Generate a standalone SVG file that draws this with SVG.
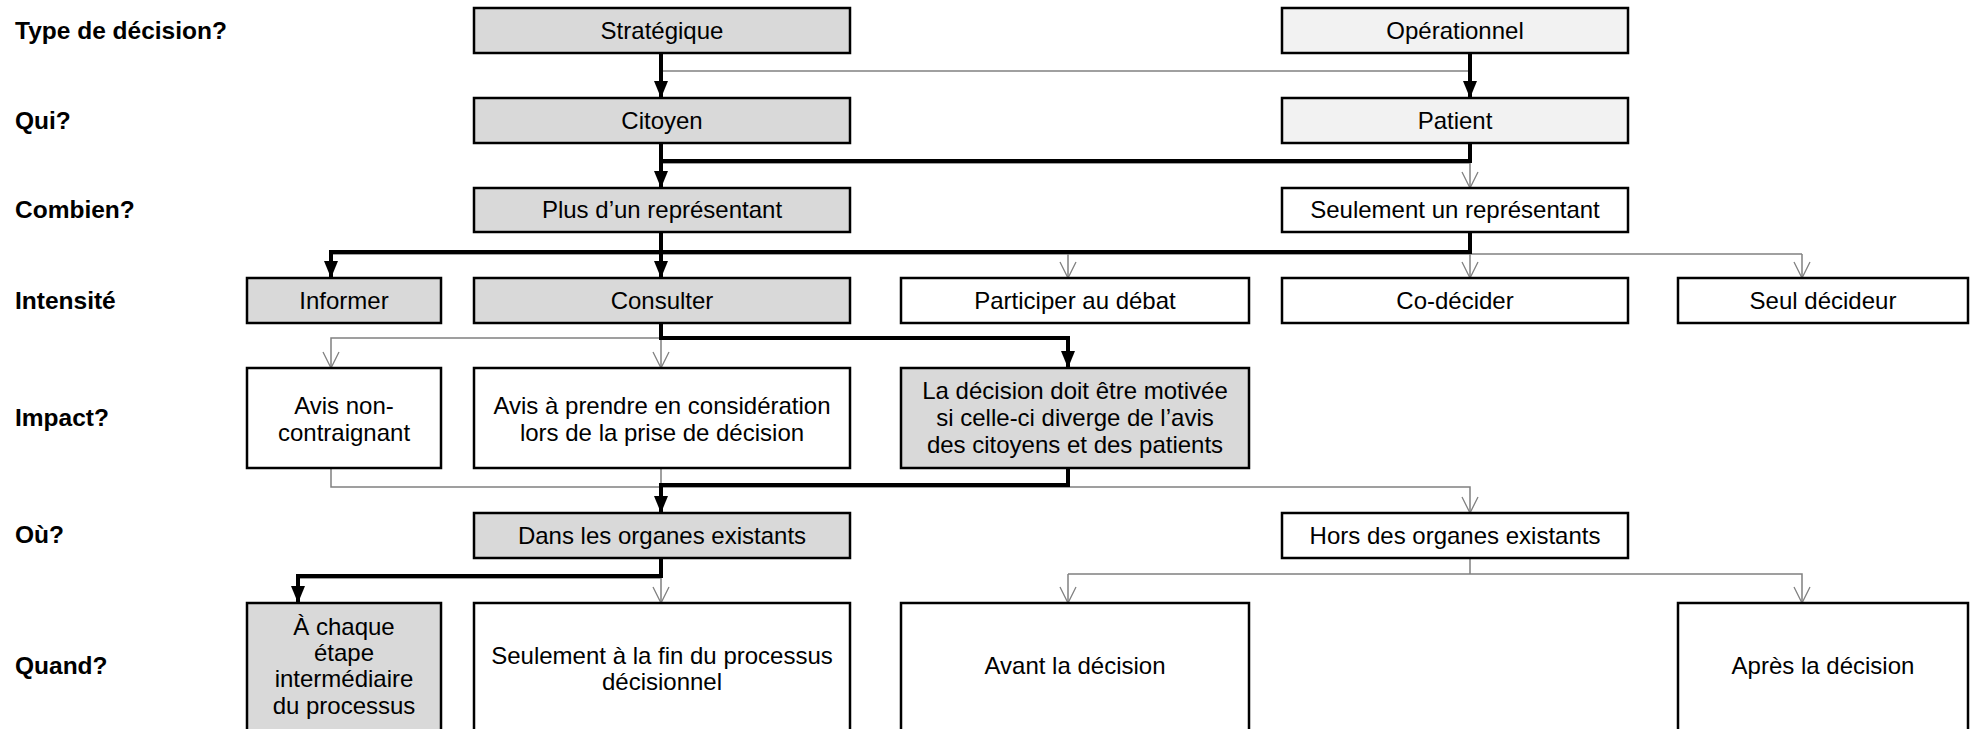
<svg xmlns="http://www.w3.org/2000/svg" width="1978" height="729" viewBox="0 0 1978 729">
<style>
.box{stroke:#000;stroke-width:2.5}
.g1{fill:#d9d9d9}
.g2{fill:#f2f2f2}
.w{fill:#fff}
text{font-family:"Liberation Sans",Arial,sans-serif;font-size:24px;fill:#000}
.t{text-anchor:middle}
.lbl{font-weight:bold;text-anchor:start;font-size:24.5px}
.thick{stroke:#000;stroke-width:4;fill:none}
.thin{stroke:#808080;stroke-width:1.5;fill:none}
</style>
<defs>
<marker id="af" markerUnits="userSpaceOnUse" viewBox="0 0 17 14" markerWidth="17" markerHeight="14" refX="17" refY="7" orient="auto">
<path d="M0,0 L17,7 L0,14 z" fill="#000"/>
</marker>
<marker id="av" markerUnits="userSpaceOnUse" viewBox="-1 -1 19 18" markerWidth="19" markerHeight="18" refX="16" refY="8" orient="auto" overflow="visible">
<path d="M0,0 L16,8 L0,16" fill="none" stroke="#808080" stroke-width="1.3"/>
</marker>
</defs>
<rect width="1978" height="729" fill="#fff"/>

<g id="labels">
<text class="lbl" x="15" y="39">Type de décision?</text>
<text class="lbl" x="15" y="129">Qui?</text>
<text class="lbl" x="15" y="218">Combien?</text>
<text class="lbl" x="15" y="309">Intensité</text>
<text class="lbl" x="15" y="426">Impact?</text>
<text class="lbl" x="15" y="543">Où?</text>
<text class="lbl" x="15" y="674">Quand?</text>
</g>

<g id="connectors">
<path class="thin" d="M661,71 H1470"/>
<path class="thin" d="M661,163 H1470"/>
<path class="thin" d="M1470,161 V188" marker-end="url(#av)"/>
<path class="thin" d="M331,254 H1802"/>
<path class="thin" d="M1068,254 V278" marker-end="url(#av)"/>
<path class="thin" d="M1470,254 V278" marker-end="url(#av)"/>
<path class="thin" d="M1802,254 V278" marker-end="url(#av)"/>
<path class="thin" d="M661,338 H331 V368" marker-end="url(#av)"/>
<path class="thin" d="M661,338 V368" marker-end="url(#av)"/>
<path class="thin" d="M331,468 V487 H1470 V513" marker-end="url(#av)"/>
<path class="thin" d="M661,468 V487"/>
<path class="thin" d="M298,578 H661 V603" marker-end="url(#av)"/>
<path class="thin" d="M1470,558 V574"/>
<path class="thin" d="M1068,574 V603" marker-end="url(#av)"/>
<path class="thin" d="M1068,574 H1802 V603" marker-end="url(#av)"/>

<path class="thick" d="M661,53 V98" marker-end="url(#af)"/>
<path class="thick" d="M1470,53 V98" marker-end="url(#af)"/>
<path class="thick" d="M661,143 V188" marker-end="url(#af)"/>
<path class="thick" d="M1470,143 V161 H661"/>
<path class="thick" d="M661,232 V278" marker-end="url(#af)"/>
<path class="thick" d="M1470,232 V252 H331 V278" marker-end="url(#af)"/>
<path class="thick" d="M661,323 V338 H1068 V368" marker-end="url(#af)"/>
<path class="thick" d="M1068,468 V485 H661 V513" marker-end="url(#af)"/>
<path class="thick" d="M661,558 V576 H298 V603" marker-end="url(#af)"/>
</g>

<g id="strategique"><rect class="box g1" x="474" y="8" width="376" height="45"/><text class="t" x="662" y="39">Stratégique</text></g>
<g id="operationnel"><rect class="box g2" x="1282" y="8" width="346" height="45"/><text class="t" x="1455" y="39">Opérationnel</text></g>

<g id="citoyen"><rect class="box g1" x="474" y="98" width="376" height="45"/><text class="t" x="662" y="129">Citoyen</text></g>
<g id="patient"><rect class="box g2" x="1282" y="98" width="346" height="45"/><text class="t" x="1455" y="129">Patient</text></g>

<g id="plus-un"><rect class="box g1" x="474" y="188" width="376" height="44"/><text class="t" x="662" y="218">Plus d’un représentant</text></g>
<g id="seulement-un"><rect class="box w" x="1282" y="188" width="346" height="44"/><text class="t" x="1455" y="218">Seulement un représentant</text></g>

<g id="informer"><rect class="box g1" x="247" y="278" width="194" height="45"/><text class="t" x="344" y="309">Informer</text></g>
<g id="consulter"><rect class="box g1" x="474" y="278" width="376" height="45"/><text class="t" x="662" y="309">Consulter</text></g>
<g id="participer"><rect class="box w" x="901" y="278" width="348" height="45"/><text class="t" x="1075" y="309">Participer au débat</text></g>
<g id="codecider"><rect class="box w" x="1282" y="278" width="346" height="45"/><text class="t" x="1455" y="309">Co-décider</text></g>
<g id="seul"><rect class="box w" x="1678" y="278" width="290" height="45"/><text class="t" x="1823" y="309">Seul décideur</text></g>

<g id="avis-non"><rect class="box w" x="247" y="368" width="194" height="100"/><text class="t" x="344" y="414">Avis non-</text><text class="t" x="344" y="441">contraignant</text></g>
<g id="avis-prendre"><rect class="box w" x="474" y="368" width="376" height="100"/><text class="t" x="662" y="414">Avis à prendre en considération</text><text class="t" x="662" y="441">lors de la prise de décision</text></g>
<g id="motivee"><rect class="box g1" x="901" y="368" width="348" height="100"/><text class="t" x="1075" y="399">La décision doit être motivée</text><text class="t" x="1075" y="426">si celle-ci diverge de l’avis</text><text class="t" x="1075" y="453">des citoyens et des patients</text></g>

<g id="dans"><rect class="box g1" x="474" y="513" width="376" height="45"/><text class="t" x="662" y="544">Dans les organes existants</text></g>
<g id="hors"><rect class="box w" x="1282" y="513" width="346" height="45"/><text class="t" x="1455" y="544">Hors des organes existants</text></g>

<g id="chaque"><rect class="box g1" x="247" y="603" width="194" height="135"/><text class="t" x="344" y="635">À chaque</text><text class="t" x="344" y="661">étape</text><text class="t" x="344" y="687">intermédiaire</text><text class="t" x="344" y="714">du processus</text></g>
<g id="fin"><rect class="box w" x="474" y="603" width="376" height="135"/><text class="t" x="662" y="664">Seulement à la fin du processus</text><text class="t" x="662" y="690">décisionnel</text></g>
<g id="avant"><rect class="box w" x="901" y="603" width="348" height="135"/><text class="t" x="1075" y="674">Avant la décision</text></g>
<g id="apres"><rect class="box w" x="1678" y="603" width="290" height="135"/><text class="t" x="1823" y="674">Après la décision</text></g>
</svg>
